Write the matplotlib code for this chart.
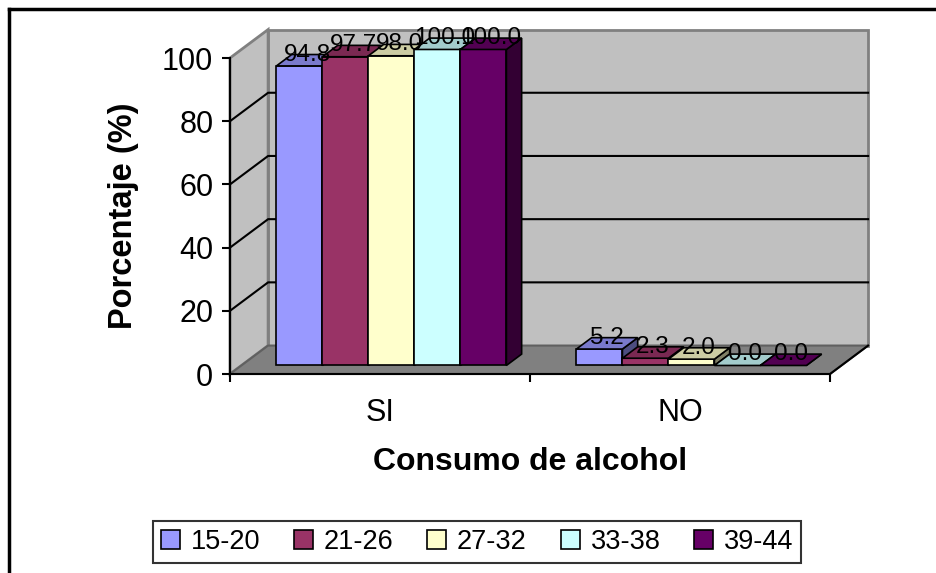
import matplotlib
matplotlib.use("Agg")
import matplotlib.pyplot as plt
from matplotlib.patches import Polygon, Patch
from matplotlib.lines import Line2D
from matplotlib.colors import to_rgb

plt.rcParams['font.family'] = ['Liberation Sans', 'DejaVu Sans']

categorias = ["SI", "NO"]
grupos = ["15-20", "21-26", "27-32", "33-38", "39-44"]
si_vals = [94.8, 97.7, 98.0, 100.0, 100.0]
no_vals = [5.2, 2.3, 2.0, 0.0, 0.0]
colores = ["#9999FF", "#993366", "#FFFFCC", "#CCFFFF", "#660066"]
yticks = [0, 20, 40, 60, 80, 100]

# profundidad del efecto 3D (en unidades de datos)
DX = 0.127
DY = 9.0
D0, D1 = 0.3, 0.7
ANCHO = 0.1533


def shade(c, f):
    r, g, b = to_rgb(c)
    return (r * f, g * f, b * f)


def poly(ax, pts, fc, ec, lw=1.0, z=1):
    ax.add_patch(Polygon(pts, closed=True, facecolor=fc, edgecolor=ec,
                         linewidth=lw, zorder=z, clip_on=False))


def bar3d(ax, x0, h, color, z):
    x1 = x0 + ANCHO
    fx, fy = D0 * DX, D0 * DY
    bx, by = D1 * DX, D1 * DY
    # frente
    poly(ax, [(x0 + fx, fy), (x1 + fx, fy), (x1 + fx, h + fy), (x0 + fx, h + fy)],
         color, "black", 1.2, z)
    # lado derecho
    poly(ax, [(x1 + fx, fy), (x1 + bx, by), (x1 + bx, h + by), (x1 + fx, h + fy)],
         shade(color, 0.5), "black", 1.2, z)
    # tapa
    poly(ax, [(x0 + fx, h + fy), (x1 + fx, h + fy), (x1 + bx, h + by), (x0 + bx, h + by)],
         shade(color, 0.8), "black", 1.2, z)


fig = plt.figure(figsize=(9.36, 5.73), dpi=100)
ax = fig.add_axes([230 / 936, (573 - 374) / 573, 600 / 936, 316 / 573])
ax.set_xlim(0, 2)
ax.set_ylim(0, 100)
ax.patch.set_visible(False)

wall = "#C0C0C0"
edge = "#808080"
# pared del fondo
poly(ax, [(DX, DY), (2 + DX, DY), (2 + DX, 100 + DY), (DX, 100 + DY)], wall, edge, 2, 0)
# pared lateral
poly(ax, [(0, 0), (DX, DY), (DX, 100 + DY), (0, 100)], wall, edge, 2, 0)
# piso
poly(ax, [(0, 0), (2, 0), (2 + DX, DY), (DX, DY)], "#808080", "#606060", 1.5, 0.5)
ax.plot([2, 2 + DX], [0, DY], color="black", lw=1.5, zorder=0.6, clip_on=False)

for v in yticks[1:-1]:
    ax.plot([0, DX, 2 + DX], [v, v + DY, v + DY], color="black", lw=1.5,
            zorder=0.7, clip_on=False)

z = 2
for ci, vals in enumerate([si_vals, no_vals]):
    left = ci + 0.5 - len(grupos) * ANCHO / 2
    for i, v in enumerate(vals):
        x0 = left + i * ANCHO
        bar3d(ax, x0, v, colores[i], z)
        z += 1
        ax.text(x0 + ANCHO / 2 + 0.5 * DX, v + D1 * DY, f"{v:.1f}",
                ha="center", va="center", fontsize=17.5, zorder=50, clip_on=False)

for s in ["top", "right"]:
    ax.spines[s].set_visible(False)
ax.spines["left"].set_linewidth(1.5)
ax.spines["bottom"].set_linewidth(1.5)
ax.spines["left"].set_zorder(40)
ax.spines["bottom"].set_zorder(40)

ax.set_yticks(yticks)
ax.tick_params(axis="y", length=6, width=1.5, labelsize=22, pad=6)
ax.set_xticks([0.5, 1.5])
ax.set_xticklabels(categorias)
ax.set_xticks([0, 1, 2], minor=True)
ax.tick_params(axis="x", which="major", length=0, labelsize=22, pad=17)
ax.tick_params(axis="x", which="minor", length=6, width=1.5)

ax.set_xlabel("Consumo de alcohol", fontsize=23, fontweight="bold")
ax.xaxis.set_label_coords(0.5, -0.232)
ax.set_ylabel("Porcentaje (%)", fontsize=23.5, fontweight="bold")
ax.yaxis.set_label_coords(-0.152, 0.5)

handles = [Patch(facecolor=c, edgecolor="black", linewidth=1.2) for c in colores]
leg = fig.legend(handles, grupos, loc="center", bbox_to_anchor=(477 / 936, 1 - 542 / 573),
                 ncol=5, fontsize=19.5, frameon=True, fancybox=False,
                 handlelength=0.7, handleheight=0.7, handletextpad=0.4,
                 columnspacing=1.25, borderpad=0.28)
leg.get_frame().set_edgecolor("black")
leg.get_frame().set_linewidth(1.5)

# marco exterior
fig.add_artist(Line2D([9 / 936, 1], [1 - 9 / 573, 1 - 9 / 573], color="black", lw=2.5))
fig.add_artist(Line2D([9 / 936, 9 / 936], [0, 1 - 9 / 573], color="black", lw=2.5))

fig.savefig("out.png", dpi=100)
